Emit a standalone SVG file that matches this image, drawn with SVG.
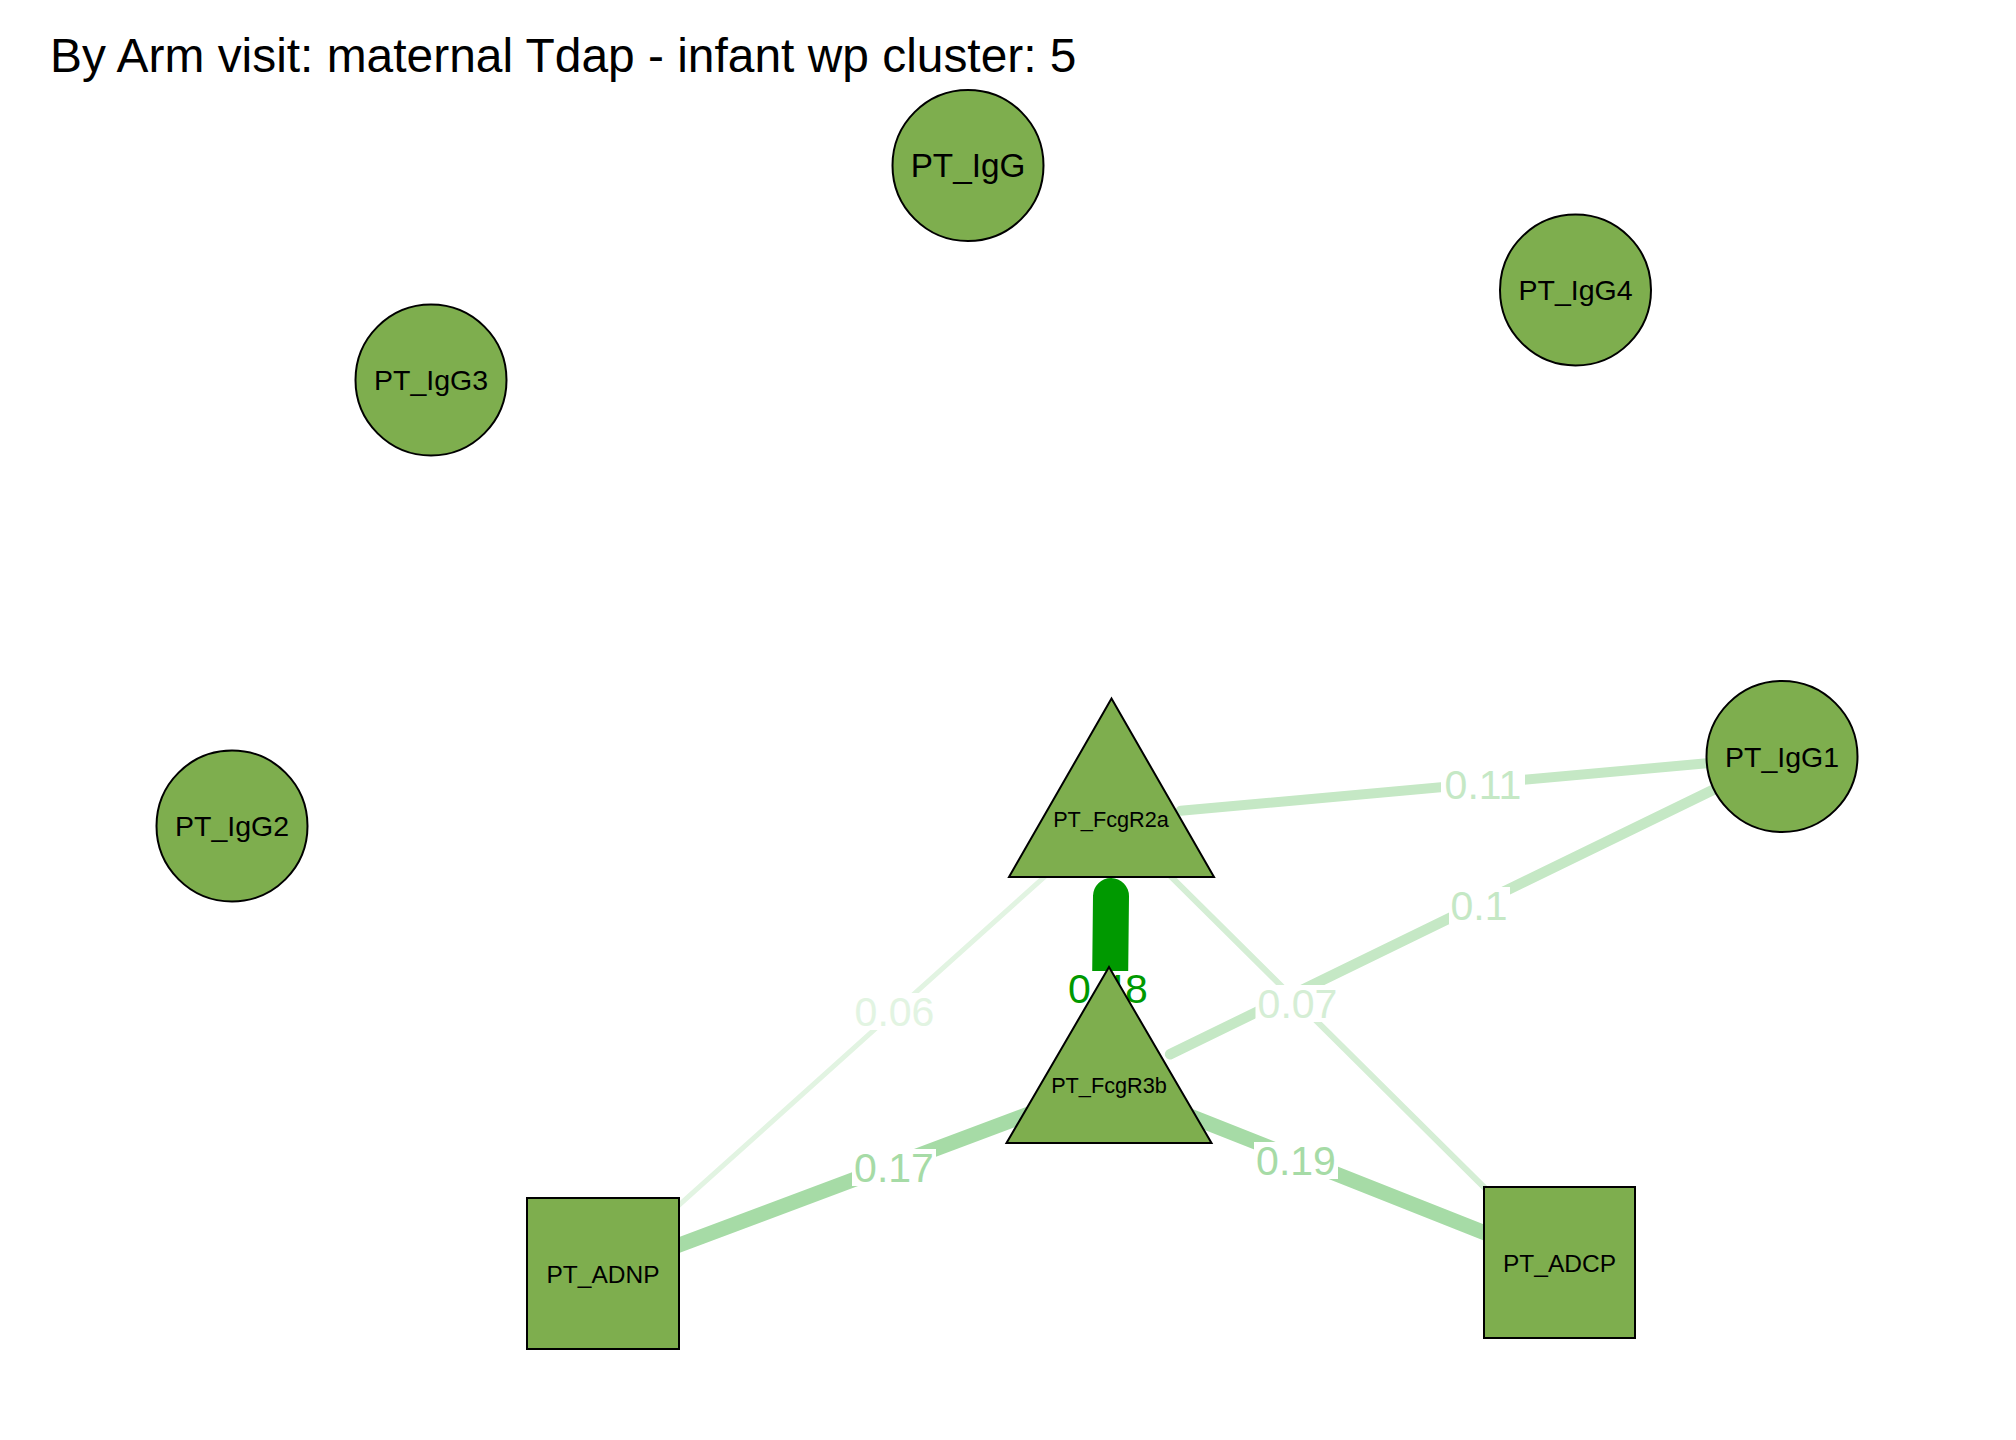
<svg xmlns="http://www.w3.org/2000/svg" width="2016" height="1440" viewBox="0 0 2016 1440">
<style>
text{font-family:"Liberation Sans",Arial,sans-serif;}
.node{fill:#7EAE4E;stroke:#000;stroke-width:2;}
.nl{fill:#000;text-anchor:middle;}
.e{fill:none;stroke-linecap:round;}
.el{font-size:41px;text-anchor:middle;}
.bg{fill:#fff;}
</style>
<rect x="0" y="0" width="2016" height="1440" fill="#fff"/>
<text x="50" y="72" font-size="47.9" fill="#000">By Arm visit: maternal Tdap - infant wp cluster: 5</text>
<g id="connectors">
  <line class="e" x1="1111" y1="896" x2="1110" y2="990" stroke="#009900" stroke-width="36"/>
  <line class="e" x1="1180.7" y1="810.7" x2="1712.3" y2="762.8" stroke="#C5E8C5" stroke-width="10"/>
  <line class="e" x1="1170.1" y1="1054.2" x2="1719" y2="787" stroke="#C5E8C5" stroke-width="10.5"/>
  <line class="e" x1="1058.9" y1="863.8" x2="655" y2="1226.7" stroke="#E2F4E2" stroke-width="5"/>
  <line class="e" x1="1160.7" y1="866.3" x2="1510" y2="1213" stroke="#D5EED5" stroke-width="6"/>
  <line class="e" x1="1043" y1="1108.7" x2="668.5" y2="1249" stroke="#A6DBA6" stroke-width="15"/>
  <line class="e" x1="1174" y1="1109.7" x2="1494" y2="1236.5" stroke="#A6DBA6" stroke-width="15"/>
  <g id="edge-labels">
    <rect class="bg" x="1066" y="971" width="84" height="37"/>
    <text class="el" x="1108" y="1003" fill="#009900">0.48</text>
    <rect class="bg" x="1441" y="766" width="84" height="37"/>
    <text class="el" x="1483" y="799" fill="#C5E8C5">0.11</text>
    <rect class="bg" x="1449" y="887" width="61" height="37"/>
    <text class="el" x="1479" y="920" fill="#C5E8C5">0.1</text>
    <rect class="bg" x="852.5" y="993" width="84" height="37"/>
    <text class="el" x="894.5" y="1026" fill="#E2F4E2">0.06</text>
    <rect class="bg" x="1255.5" y="985" width="84" height="37"/>
    <text class="el" x="1297.5" y="1017.5" fill="#D5EED5">0.07</text>
    <rect class="bg" x="852" y="1149" width="84" height="37"/>
    <text class="el" x="894" y="1182" fill="#A6DBA6">0.17</text>
    <rect class="bg" x="1254" y="1142" width="84" height="37"/>
    <text class="el" x="1296" y="1175" fill="#A6DBA6">0.19</text>
  </g>
</g>
<g id="PT_IgG">
  <circle class="node" cx="968" cy="165.5" r="75.5"/>
  <text class="nl" x="968" y="177" font-size="33.3">PT_IgG</text>
</g>
<g id="PT_IgG4">
  <circle class="node" cx="1575.5" cy="290" r="75.5"/>
  <text class="nl" x="1575.5" y="300" font-size="28.5">PT_IgG4</text>
</g>
<g id="PT_IgG3">
  <circle class="node" cx="431" cy="380" r="75.5"/>
  <text class="nl" x="431" y="390" font-size="28.5">PT_IgG3</text>
</g>
<g id="PT_IgG2">
  <circle class="node" cx="232" cy="826" r="75.5"/>
  <text class="nl" x="232" y="836" font-size="28.5">PT_IgG2</text>
</g>
<g id="PT_IgG1">
  <circle class="node" cx="1782" cy="756.5" r="75.5"/>
  <text class="nl" x="1782" y="767" font-size="28.5">PT_IgG1</text>
</g>
<g id="PT_FcgR2a">
  <polygon class="node" points="1111.5,698.5 1214,877 1009,877"/>
  <text class="nl" x="1111" y="827" font-size="21.7">PT_FcgR2a</text>
</g>
<g id="PT_FcgR3b">
  <polygon class="node" points="1109,967 1211.5,1143 1006.5,1143"/>
  <text class="nl" x="1109" y="1092.5" font-size="21.7">PT_FcgR3b</text>
</g>
<g id="PT_ADNP">
  <rect class="node" x="527" y="1198" width="152" height="151"/>
  <text class="nl" x="603" y="1283" font-size="24.5">PT_ADNP</text>
</g>
<g id="PT_ADCP">
  <rect class="node" x="1484" y="1187" width="151" height="151"/>
  <text class="nl" x="1559.5" y="1272" font-size="24.5">PT_ADCP</text>
</g>
</svg>
